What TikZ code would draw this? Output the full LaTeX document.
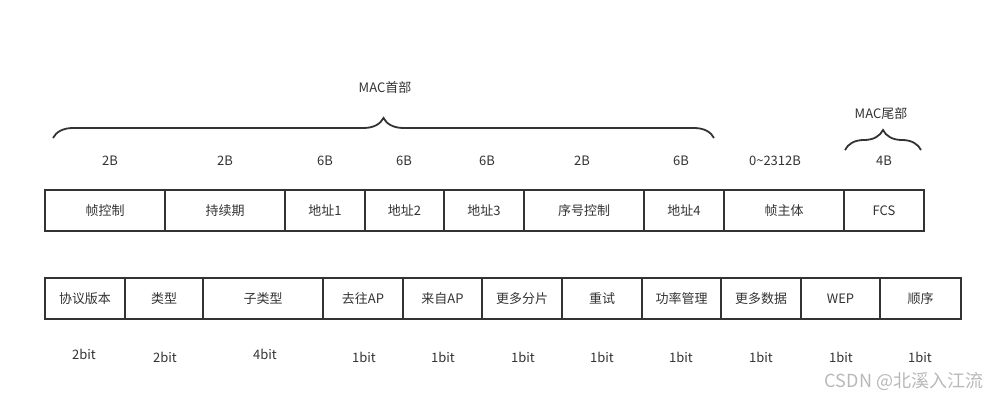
\documentclass[tikz,border=0pt]{standalone}
\usepackage{fontspec}
\setmainfont{Noto Sans CJK SC}
\usetikzlibrary{decorations.pathreplacing}

\definecolor{linegray}{HTML}{333333}
\definecolor{textgray}{HTML}{333333}
\definecolor{markgray}{HTML}{B8B8B8}

\begin{document}
\begin{tikzpicture}[x=1pt,y=-1pt,
    field/.style={draw=linegray,line width=1.8pt,minimum height=41pt,inner sep=0pt,outer sep=0pt,
        text=textgray,font=\fontsize{13}{15}\selectfont},
    size/.style={text=textgray,inner sep=0pt,font=\fontsize{13}{15}\selectfont},
    brace/.style={draw=linegray,line width=1.8pt,decorate,
        decoration={brace,amplitude=20pt}}]
    \useasboundingbox (0,0) rectangle (1005,401);

    % MAC frame
    \node[field,minimum width=120pt] (fctrl) at (105,210.5) {帧控制};
    \node[field,minimum width=120pt] (dur) at (225,210.5) {持续期};
    \node[field,minimum width=80pt] (addr1) at (325,210.5) {地址1};
    \node[field,minimum width=79pt] (addr2) at (404.5,210.5) {地址2};
    \node[field,minimum width=80pt] (addr3) at (484,210.5) {地址3};
    \node[field,minimum width=120pt] (seq) at (584,210.5) {序号控制};
    \node[field,minimum width=80pt] (addr4) at (684,210.5) {地址4};
    \node[field,minimum width=120pt] (body) at (784,210.5) {帧主体};
    \node[field,minimum width=80pt] (fcs) at (884,210.5) {FCS};

    \node[size] (sfctrl) at (110,161) {2B};
    \node[size] (sdur) at (225,161) {2B};
    \node[size] (saddr1) at (325,161) {6B};
    \node[size] (saddr2) at (404,161) {6B};
    \node[size] (saddr3) at (487,161) {6B};
    \node[size] (sseq) at (582,161) {2B};
    \node[size] (saddr4) at (681,161) {6B};
    \node[size] (sbody) at (775,161) {0\textasciitilde2312B};
    \node[size] (sfcs) at (884,161) {4B};

    % header / trailer
    \coordinate (hdrL) at (53,138);
    \coordinate (hdrR) at (714,138);
    \draw[brace] (hdrL) -- (hdrR);
    \node[size] (hdr) at (385,88) {MAC首部};
    \coordinate (trlL) at (845,150);
    \coordinate (trlR) at (921,150);
    \draw[brace] (trlL) -- (trlR);
    \node[size] (trl) at (881,114) {MAC尾部};

    % frame control field
    \node[field,minimum width=80pt] (ver) at (85,298.5) {协议版本};
    \node[field,minimum width=78pt] (type) at (164,298.5) {类型};
    \node[field,minimum width=120pt] (subtype) at (263,298.5) {子类型};
    \node[field,minimum width=80pt] (tods) at (363,298.5) {去往AP};
    \node[field,minimum width=79pt] (fromds) at (442.5,298.5) {来自AP};
    \node[field,minimum width=80pt] (morefrag) at (522,298.5) {更多分片};
    \node[field,minimum width=80pt] (retry) at (602,298.5) {重试};
    \node[field,minimum width=79pt] (pwr) at (681.5,298.5) {功率管理};
    \node[field,minimum width=80pt] (moredata) at (761,298.5) {更多数据};
    \node[field,minimum width=79pt] (wep) at (840.5,298.5) {WEP};
    \node[field,minimum width=81pt] (order) at (920.5,298.5) {顺序};

    \node[size] (sver) at (84,354) {2bit};
    \node[size] (stype) at (165,357) {2bit};
    \node[size] (ssubtype) at (265,354) {4bit};
    \node[size] (stods) at (364,357) {1bit};
    \node[size] (sfromds) at (443,357) {1bit};
    \node[size] (smorefrag) at (523,357) {1bit};
    \node[size] (sretry) at (602,357) {1bit};
    \node[size] (spwr) at (681,357) {1bit};
    \node[size] (smoredata) at (761,357) {1bit};
    \node[size] (swep) at (841,357) {1bit};
    \node[size] (sorder) at (920,357) {1bit};

    \node[text=markgray,inner sep=0pt,font=\fontsize{18}{21}\selectfont] (mark) at (904,381) {CSDN @北溪入江流};
\end{tikzpicture}
\end{document}
